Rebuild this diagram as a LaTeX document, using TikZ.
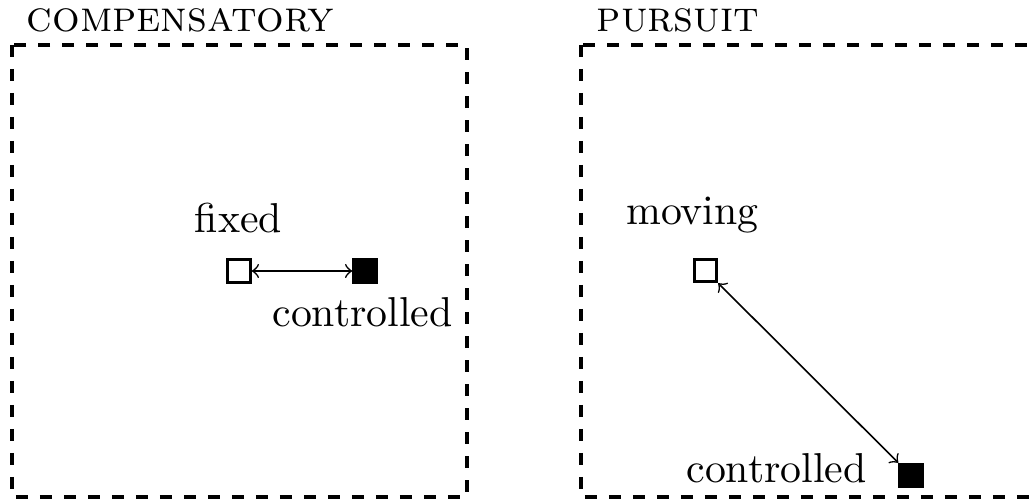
\documentclass[tikz,border=0pt]{standalone}
\begin{document}
\begin{tikzpicture}[x=0.25pt,y=-0.25pt,
  panel/.style={draw,dashed,line width=0.95pt},
  opensq/.style={draw,line width=0.75pt,minimum size=5.6pt,inner sep=0pt,fill=white},
  fullsq/.style={draw,line width=0.75pt,minimum size=5.6pt,inner sep=0pt,fill=black},
  lbl/.style={anchor=base,inner sep=0pt,font=\fontsize{10.45}{12}\selectfont},
  head/.style={anchor=base west,inner sep=0pt,font=\fontsize{10.85}{12}\selectfont\scshape},
  link/.style={<->,line width=0.4pt}]
\useasboundingbox (0,0) rectangle (1032,502);
% panels
\draw[panel] (12,45) rectangle (467,497);
\draw[panel] (581,45) rectangle (1036,497);
\node[head] (h1) at (26,32) {compensatory};
\node[head] (h2) at (596,32) {pursuit};
% compensatory
\node[opensq] (fixed) at (239,271) {};
\node[fullsq] (ctrlA) at (365,271) {};
\node[lbl] (lfixed) at (238.5,233) {fixed};
\node[lbl] (lctrlA) at (362.5,327) {controlled};
\draw[link] (fixed) -- (ctrlA);
% pursuit
\node[opensq] (moving) at (705.5,270.5) {};
\node[fullsq] (ctrlB) at (911,475.5) {};
\node[lbl] (lmoving) at (692.5,225) {moving};
\node[lbl] (lctrlB) at (776.5,483) {controlled};
\draw[link] (moving) -- (ctrlB);
\end{tikzpicture}
\end{document}
